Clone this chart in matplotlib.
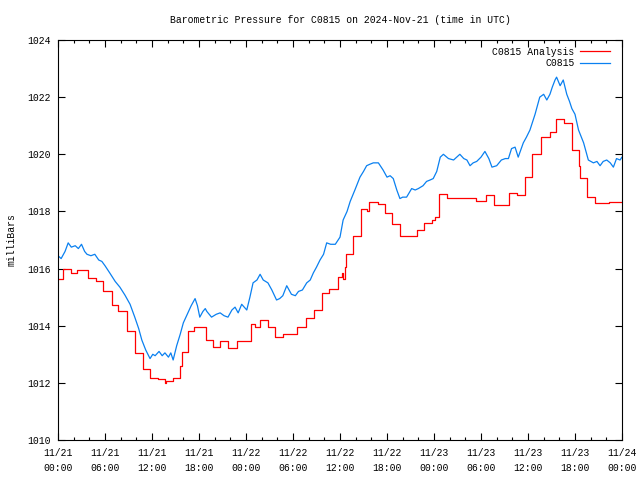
import matplotlib
matplotlib.use("Agg")
import matplotlib.pyplot as plt
from matplotlib.ticker import MultipleLocator

# hours since 2024-11-21 00:00 UTC
obs_hours = [
    0.0, 0.4, 0.9, 1.3, 1.7, 2.2, 2.6, 3.0, 3.4, 3.7, 4.2, 4.7, 5.2, 5.6, 6.0,
    6.6, 7.3, 7.9, 8.55, 9.2, 9.8, 10.3, 10.7, 11.2, 11.75, 12.1, 12.4, 12.9,
    13.3, 13.65, 14.1, 14.4, 14.7, 15.15, 15.6, 16.0, 16.5, 17.0, 17.5, 17.8,
    18.1, 18.5, 18.8, 19.0, 19.6, 20.2, 20.7, 21.2, 21.7, 22.2, 22.6, 23.0,
    23.45, 24.1, 24.5, 24.9, 25.4, 25.8, 26.2, 26.8, 27.3, 27.9, 28.3, 28.7,
    29.2, 29.8, 30.3, 30.7, 31.2, 31.75, 32.2, 32.6, 33.0, 33.45, 33.9, 34.3,
    34.8, 35.4, 36.0, 36.4, 36.9, 37.3, 37.9, 38.55, 39.0, 39.4, 39.8, 40.25,
    40.9, 41.5, 42.0, 42.4, 42.8, 43.25, 43.65, 44.0, 44.5, 45.15, 45.6, 46.0,
    46.6, 47.05, 47.5, 47.9, 48.35, 48.8, 49.2, 49.85, 50.5, 51.3, 51.8, 52.2,
    52.6, 53.0, 53.45, 54.0, 54.5, 55.0, 55.4, 56.0, 56.6, 57.1, 57.5, 57.9,
    58.35, 58.75, 59.4, 59.8, 60.25, 60.9, 61.5, 62.0, 62.4, 62.8, 63.1, 63.45,
    63.65, 64.1, 64.5, 64.95, 65.3, 65.6, 66.0, 66.45, 67.1, 67.7, 68.35, 68.8,
    69.2, 69.6, 70.05, 70.5, 70.9, 71.3, 71.75, 72.0,
]
obs_mb = [
    1016.45, 1016.35, 1016.6, 1016.9, 1016.75, 1016.8, 1016.7, 1016.85, 1016.6,
    1016.5, 1016.45, 1016.5, 1016.3, 1016.25, 1016.1, 1015.85, 1015.55, 1015.35,
    1015.07, 1014.75, 1014.3, 1013.9, 1013.5, 1013.15, 1012.85, 1013.0, 1012.95,
    1013.1, 1012.95, 1013.05, 1012.9, 1013.05, 1012.8, 1013.3, 1013.7, 1014.1,
    1014.4, 1014.7, 1014.95, 1014.7, 1014.3, 1014.5, 1014.6, 1014.5, 1014.3,
    1014.4, 1014.45, 1014.35, 1014.3, 1014.55, 1014.65, 1014.45, 1014.75,
    1014.55, 1015.0, 1015.5, 1015.6, 1015.8, 1015.6, 1015.5, 1015.25, 1014.9,
    1014.95, 1015.05, 1015.4, 1015.1, 1015.05, 1015.2, 1015.25, 1015.5, 1015.6,
    1015.85, 1016.05, 1016.3, 1016.5, 1016.9, 1016.85, 1016.85, 1017.1, 1017.7,
    1018.0, 1018.35, 1018.75, 1019.2, 1019.4, 1019.6, 1019.65, 1019.7, 1019.7,
    1019.45, 1019.2, 1019.25, 1019.15, 1018.75, 1018.45, 1018.5, 1018.5, 1018.8,
    1018.75, 1018.8, 1018.9, 1019.05, 1019.1, 1019.15, 1019.4, 1019.9, 1020.0,
    1019.85, 1019.8, 1020.0, 1019.85, 1019.8, 1019.6, 1019.7, 1019.75, 1019.9,
    1020.1, 1019.85, 1019.55, 1019.6, 1019.8, 1019.85, 1019.85, 1020.2, 1020.25,
    1019.9, 1020.4, 1020.6, 1020.85, 1021.4, 1022.0, 1022.1, 1021.9, 1022.1,
    1022.35, 1022.6, 1022.7, 1022.4, 1022.6, 1022.1, 1021.85, 1021.6, 1021.4,
    1020.85, 1020.4, 1019.8, 1019.7, 1019.75, 1019.6, 1019.75, 1019.8, 1019.7,
    1019.55, 1019.85, 1019.8, 1019.9,
]

ana_hours = [
    0.0, 0.6, 1.6, 2.4, 3.85, 4.9, 5.8, 6.9, 7.6, 8.8, 9.8, 10.8, 11.75, 12.8,
    13.6, 13.8, 14.7, 15.6, 15.8, 16.6, 17.3, 18.9, 19.8, 20.7, 21.7, 22.8,
    24.7, 25.15, 25.8, 26.85, 27.7, 28.75, 30.55, 31.7, 32.7, 33.65, 34.6, 35.8,
    36.2, 36.4, 36.6, 36.8, 37.7, 38.7, 39.4, 39.7, 40.9, 41.7, 42.7, 43.65,
    45.8, 46.7, 47.8, 48.1, 48.7, 49.6, 53.4, 54.6, 55.7, 57.6, 58.6, 59.6,
    60.5, 61.6, 62.8, 63.6, 64.6, 65.6, 66.55, 66.65, 67.5, 68.55, 69.5, 70.4,
    72.0,
]
ana_mb = [
    1015.62, 1016.0, 1015.83, 1015.95, 1015.66, 1015.58, 1015.23, 1014.73,
    1014.5, 1013.8, 1013.06, 1012.48, 1012.16, 1012.12, 1011.98, 1012.08,
    1012.16, 1012.6, 1013.09, 1013.8, 1013.97, 1013.5, 1013.24, 1013.47,
    1013.23, 1013.47, 1014.05, 1013.97, 1014.2, 1013.97, 1013.6, 1013.7,
    1013.97, 1014.28, 1014.55, 1015.13, 1015.3, 1015.7, 1015.83, 1015.62,
    1016.07, 1016.5, 1017.14, 1018.1, 1018.0, 1018.32, 1018.25, 1017.93,
    1017.55, 1017.15, 1017.35, 1017.58, 1017.7, 1017.8, 1018.6, 1018.46,
    1018.37, 1018.57, 1018.22, 1018.65, 1018.57, 1019.19, 1020.0, 1020.6,
    1020.79, 1021.22, 1021.11, 1020.15, 1019.59, 1019.16, 1018.52, 1018.31,
    1018.28, 1018.34, 1018.34,
]

tick_hours = list(range(0, 73, 6))
tick_labels = [
    "11/21\n00:00", "11/21\n06:00", "11/21\n12:00", "11/21\n18:00",
    "11/22\n00:00", "11/22\n06:00", "11/22\n12:00", "11/22\n18:00",
    "11/23\n00:00", "11/23\n06:00", "11/23\n12:00", "11/23\n18:00",
    "11/24\n00:00",
]

plt.rcParams["font.family"] = ["Liberation Mono", "DejaVu Sans Mono"]
plt.rcParams["font.size"] = 7

fig = plt.figure(figsize=(6.4, 4.8), dpi=100)
ax = fig.add_axes([58 / 640, 40 / 480, 564 / 640, 400 / 480])

ax.plot(ana_hours, ana_mb, drawstyle="steps-post", color="#ff0000",
        lw=0.9, label="C0815 Analysis")
ax.plot(obs_hours, obs_mb, color="#0a80f0", lw=0.9, label="C0815")

ax.set_xlim(0, 72)
ax.set_ylim(1010, 1024)
ax.set_xticks(tick_hours)
ax.set_xticklabels(tick_labels, linespacing=1.6)
ax.xaxis.set_minor_locator(MultipleLocator(2))
ax.yaxis.set_major_locator(MultipleLocator(2))

ax.tick_params(which="both", direction="in", top=True, right=True,
               width=0.8, colors="black", labelsize=7)
ax.tick_params(which="major", length=5, pad=5)
ax.tick_params(axis="x", which="major", pad=6)
ax.tick_params(which="minor", length=2.5)
for s in ax.spines.values():
    s.set_linewidth(0.8)

ax.set_title("Barometric Pressure for C0815 on 2024-Nov-21 (time in UTC)",
             fontsize=7, pad=12)
ax.set_ylabel("milliBars", labelpad=8)

leg = ax.legend(loc="upper right", bbox_to_anchor=(0.99, 1.0),
                frameon=False, markerfirst=False, fontsize=7,
                handlelength=3.0, handletextpad=0.6, labelspacing=0.15,
                borderaxespad=0.3)

fig.savefig("out.png", dpi=100)
